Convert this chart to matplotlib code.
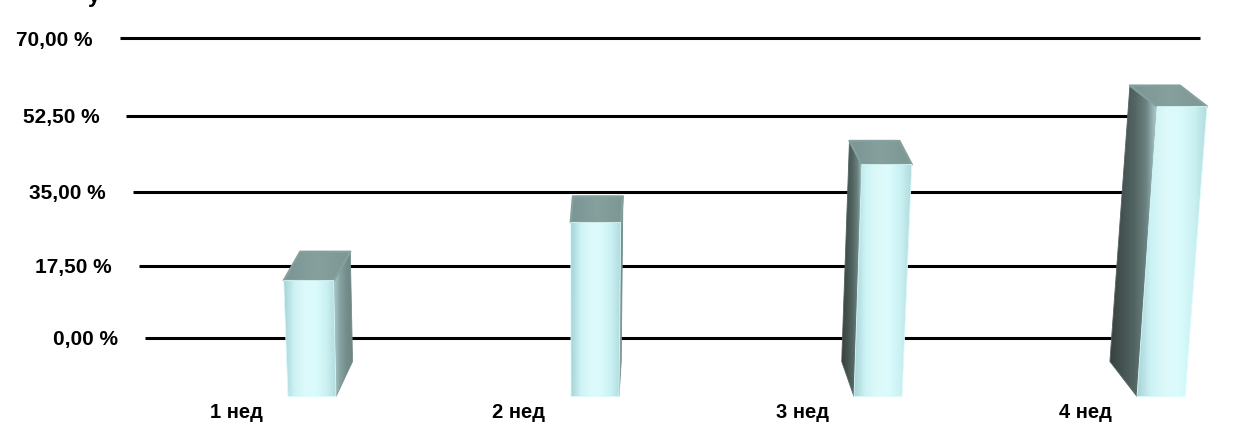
import numpy as np
import matplotlib
matplotlib.use("Agg")
import matplotlib.pyplot as plt
from matplotlib.patches import Polygon
from matplotlib.colors import LinearSegmentedColormap
from matplotlib.transforms import ScaledTranslation

plt.rcParams["font.family"] = ["Liberation Sans", "DejaVu Sans"]

# -------------------------------
# Data
# -------------------------------
weeks = ["1 нед", "2 нед", "3 нед", "4 нед"]
shares = [25.0, 37.5, 50.0, 62.5]
grid_ticks = [0.0, 17.5, 35.0, 52.5, 70.0]
grid_labels = ["0,00 %", "17,50 %", "35,00 %", "52,50 %", "70,00 %"]

# -------------------------------
# Layout constants (pixels)
# -------------------------------
W, H = 1236, 430
X0 = 236          # centre of first category label
CAT = 283         # distance between categories
FLOOR = 33.5      # floor of bars above bottom edge
FRONT = 4.64      # px per % on the bar faces
WALL = 4.078      # px per % on the back wall (before perspective term)
WALL_K = 0.000711
WALL_ZERO = 92    # 0 % line above bottom edge


def wall_fwd(v):
    return v + WALL_K * v * v


def wall_inv(u):
    u = np.asarray(u, dtype=float)
    return (-1 + np.sqrt(np.clip(1 + 4 * WALL_K * u, 1e-9, None))) / (2 * WALL_K)


def px_x(px):
    return (px - X0) / CAT


fig = plt.figure(figsize=(W / 100, H / 100), dpi=100)

# back wall with the grid
ax_back = fig.add_axes([0, 0, 1, 1])
ax_back.set_yscale("function", functions=(wall_fwd, wall_inv))
ax_back.set_xlim(px_x(0), px_x(W))
ax_back.set_ylim(float(wall_inv(-WALL_ZERO / WALL)), float(wall_inv((H - WALL_ZERO) / WALL)))
ax_back.axis("off")

down2 = ax_back.transData + ScaledTranslation(0, -2 / 100, fig.dpi_scale_trans)
for v, lab in zip(grid_ticks, grid_labels):
    start = 145 - v * 25 / 70
    end = 1180 + v * 20 / 70
    ax_back.hlines(v, px_x(start), px_x(end), color="black", lw=2.2)
    ax_back.text(px_x(start - 27), v, lab, ha="right", va="center",
                 fontsize=15, fontweight="bold", transform=down2)

# front plane with the bars
ax = fig.add_axes([0, 0, 1, 1])
ax.patch.set_alpha(0)
ax.axis("off")


def shade(pts, colors, z, edge_lw=0.6):
    pts = [(px_x(x), y / FRONT) for x, y in pts]
    poly = Polygon(pts, closed=True, facecolor="none", edgecolor="none", zorder=z)
    ax.add_patch(poly)
    xs = [p[0] for p in pts]
    ys = [p[1] for p in pts]
    cmap = LinearSegmentedColormap.from_list("g", colors)
    im = ax.imshow(np.linspace(0, 1, 256)[None, :], cmap=cmap, aspect="auto",
                   extent=[min(xs), max(xs), min(ys), max(ys)], zorder=z,
                   interpolation="bilinear")
    im.set_clip_path(poly)
    ax.add_patch(Polygon(pts, closed=True, facecolor="none",
                         edgecolor=colors[len(colors) // 2], lw=edge_lw,
                         joinstyle="round", zorder=z + 0.1))


front_cols = ["#a8d3d5", "#cdf3f5", "#def9fa", "#dafbfc", "#cbf1f3", "#b0dadc"]
left_side = ["#37413f", "#44524f", "#526462", "#6a8280", "#b5d6d7"]
right_side = ["#a9c9ca", "#85a19f", "#748d8b", "#6d8583"]
top_cols = ["#7a9593", "#86a09e", "#7c9694"]

for i, v in enumerate(shares):
    h = v * FRONT
    xb = X0 + i * CAT + 77
    lean = (xb - 610) / 8000
    xt = xb + lean * h
    half = 25
    shift = -(xt - 640) * 0.05
    dy = 34 - 0.045 * h
    dyb = 35

    front = [(xb - half, 0), (xb + half - 2, 0), (xt + half, h), (xt - half, h)]
    top = [(xt - half, h), (xt + half, h), (xt + half + shift, h + dy),
           (xt - half + shift, h + dy)]
    if shift < 0:
        side = [(xb - half + shift, dyb), (xb - half, 0), (xt - half, h),
                (xt - half + shift, h + dy)]
        shade(side, left_side, 3)
    else:
        side = [(xb + half - 2, 0), (xb + half - 2 + shift, dyb),
                (xt + half + shift, h + dy), (xt + half, h)]
        shade(side, right_side, 3)
    shade(top, top_cols, 4, edge_lw=1.6)
    shade(front, front_cols, 5)

ax.set_xlim(px_x(0), px_x(W))
ax.set_ylim(-FLOOR / FRONT, (H - FLOOR) / FRONT)

for i, w in enumerate(weeks):
    ax.text(i, (17 - FLOOR) / FRONT, w, ha="center", va="center",
            fontsize=14.5, fontweight="bold")

# cut-off title at the top edge
fig.text(88 / W, 1 - 2 / H, "у", fontsize=16, fontweight="bold", va="baseline")

fig.savefig("out.png", dpi=100)
